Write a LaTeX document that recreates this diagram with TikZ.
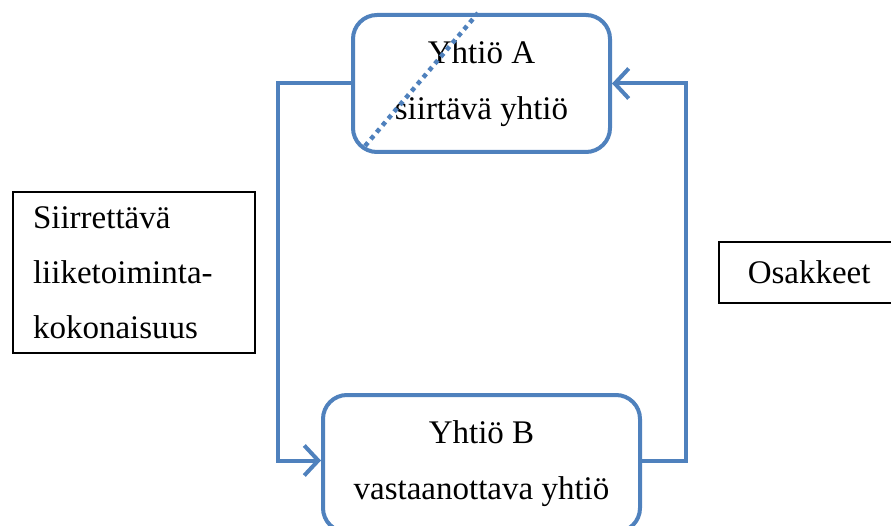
\documentclass[tikz,border=0pt]{standalone}
\usepackage{fontspec}
\setmainfont{Liberation Serif}
\usepackage{tikz}
\usetikzlibrary{arrows.meta}
\usetikzlibrary{calc}
\definecolor{officeblue}{RGB}{79,129,189}

\begin{document}
\begin{tikzpicture}[x=1pt,y=-1pt,
				every node/.style={font=\fontsize{33}{56}\selectfont},
				yhtio/.style={draw=officeblue,line width=4pt,rounded corners=24pt,
					minimum width=257pt,minimum height=137pt,align=center},
				tekstilaatikko/.style={draw=black,line width=1.5pt,align=left},
				virta/.style={draw=officeblue,line width=4pt,
					-{Straight Barb[length=14pt,width=30pt]}}]
				\useasboundingbox (0,0) rectangle (891,526);
				
				% yhtiot
				\node[yhtio] (a) at (481.5,83.5) {Yhtiö A\\siirtävä yhtiö};
				\node[yhtio,minimum width=317pt] (b) at (481.5,463.5) {Yhtiö B\\vastaanottava yhtiö};
				
				% tekstit reunoilla
				\node[tekstilaatikko,text width=202pt,inner xsep=20pt,minimum height=161pt] (siirto) at (134,272.5)
				{Siirrettävä\\[-1pt]liiketoiminta-\\[-1pt]kokonaisuus};
				\node[tekstilaatikko,anchor=west,text width=142pt,inner xsep=29pt,minimum height=61pt] (osakkeet) at (718,272.5)
				{Osakkeet};
				
				% nuolet
				\coordinate (vasen) at (278,0);
				\coordinate (oikea) at (686,0);
				\draw[virta] (a.west) -- (a.west -| vasen) |- ([yshift=3pt]b.west);
				\draw[virta] ([yshift=3pt]b.east) -- ([yshift=3pt]b.east -| oikea) |- (a.east);
				
				% katkoviiva yhtion A yli
				\coordinate (d1) at (365,146);
				\coordinate (d2) at (478,13);
				\draw[officeblue,line width=4.5pt,dash pattern=on 4.5pt off 4.5pt] (d1) -- (d2);
			\end{tikzpicture}
\end{document}
